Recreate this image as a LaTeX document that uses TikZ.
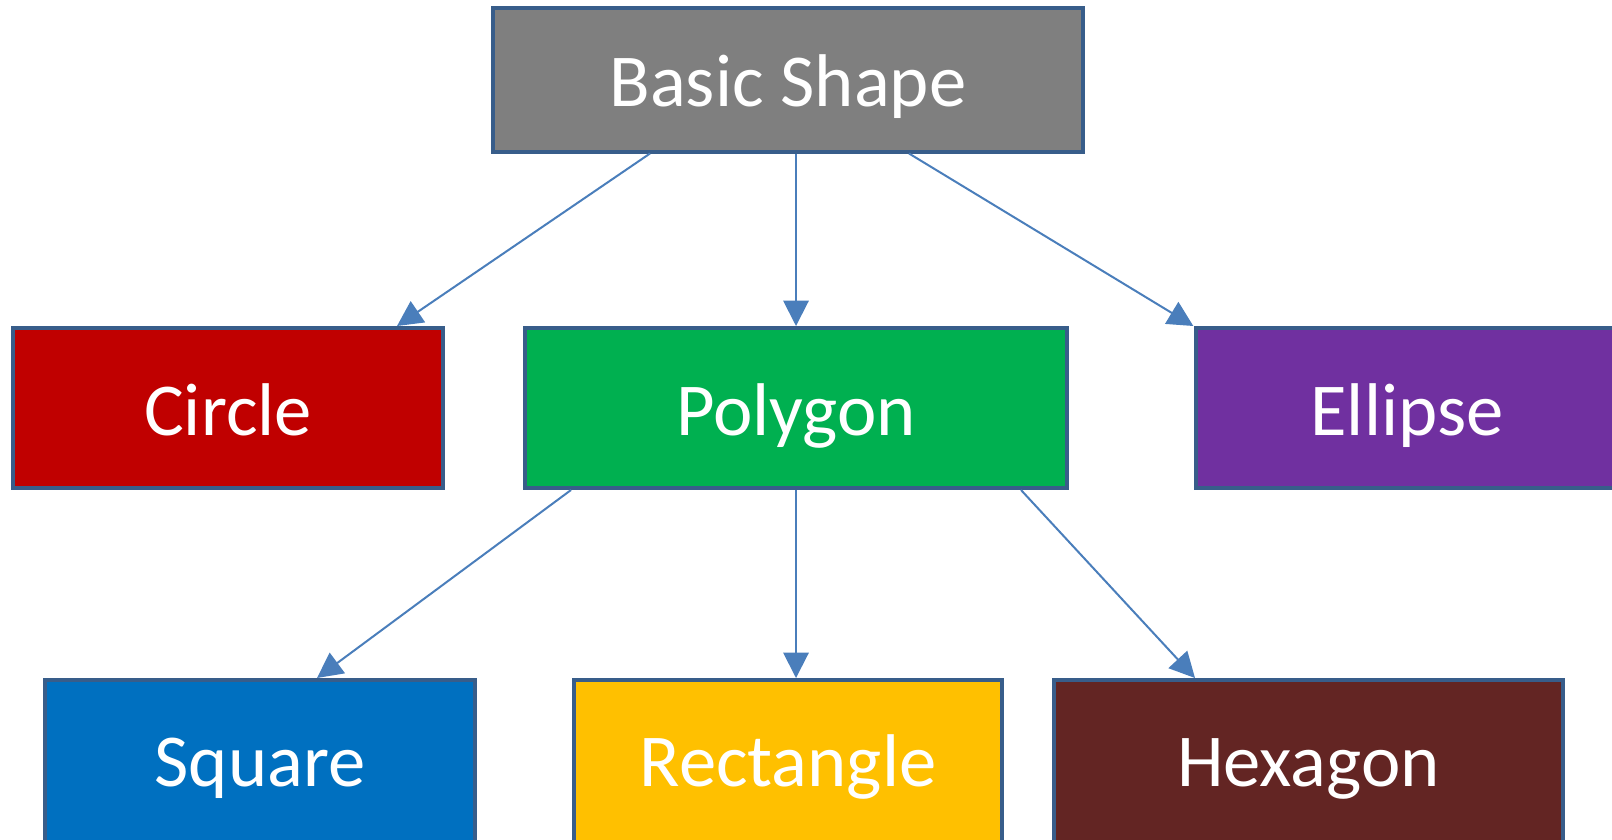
\documentclass[tikz,border=0pt]{standalone}
\usepackage{fontspec}
\setmainfont{Carlito}
\usetikzlibrary{arrows.meta,calc}
\definecolor{bordercol}{HTML}{385D8A}
\definecolor{arrowcol}{HTML}{4A7EBB}
\definecolor{cgray}{HTML}{7F7F7F}
\definecolor{cred}{HTML}{C00000}
\definecolor{cgreen}{HTML}{00B050}
\definecolor{cpurple}{HTML}{7030A0}
\definecolor{cblue}{HTML}{0070C0}
\definecolor{cyellow}{HTML}{FFC000}
\definecolor{cbrown}{HTML}{632523}
\begin{document}
\begin{tikzpicture}[x=0.75pt,y=-0.75pt,
  shapebox/.style={draw=bordercol,line width=3pt,rectangle,inner sep=0pt,
    minimum height=120pt,text=white,font=\fontsize{56}{60}\selectfont,
    text height=41pt,text depth=0pt},
  lowbox/.style={shapebox,minimum height=135pt,text height=41pt,text depth=17pt},
  conn/.style={draw=arrowcol,line width=1.5pt,-{Triangle[length=19pt,width=19pt]}}]
\useasboundingbox (0,0) rectangle (1612,839);
\node[shapebox,fill=cgray,minimum width=442pt,minimum height=108pt] (basic) at (788,79.5) {Basic Shape};
\node[shapebox,fill=cred,minimum width=322pt] (circle) at (228,408) {Circle};
\node[shapebox,fill=cgreen,minimum width=406pt] (polygon) at (796,408) {Polygon};
\node[shapebox,fill=cpurple,minimum width=316pt] (ellipse) at (1407,408) {Ellipse};
\node[lowbox,fill=cblue,minimum width=322pt] (square) at (260,770) {Square};
\node[lowbox,fill=cyellow,minimum width=321pt] (rect) at (788,770) {Rectangle};
\node[lowbox,fill=cbrown,minimum width=382pt] (hexagon) at (1308.5,770) {Hexagon};
\draw[conn] ($(basic.south)+(-138,0)$) -- ($(circle.north)+(169,0)$);
\draw[conn] ($(basic.south)+(8,0)$) -- (polygon.north);
\draw[conn] ($(basic.south)+(121,0)$) -- ($(ellipse.north west)+(-1,0)$);
\draw[conn] ($(polygon.south)+(-225,0)$) -- ($(square.north)+(57,0)$);
\draw[conn] (polygon.south) -- ($(rect.north)+(8,0)$);
\draw[conn] ($(polygon.south)+(225,0)$) -- ($(hexagon.north)+(-113.5,0)$);
\end{tikzpicture}
\end{document}
